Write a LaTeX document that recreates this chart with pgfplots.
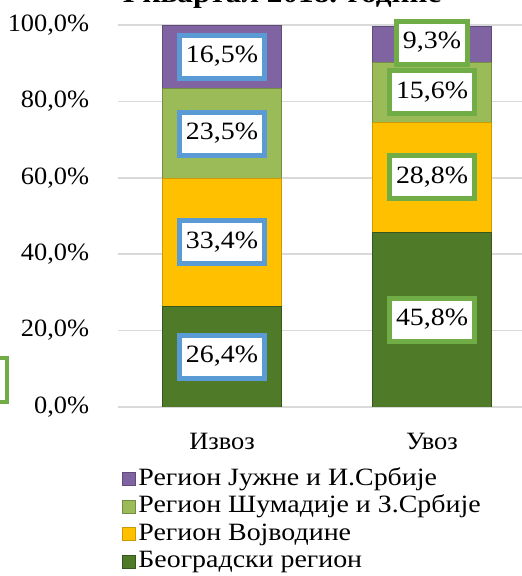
\documentclass[border=0pt]{standalone}
\usepackage{pgfplots}
\pgfplotsset{compat=1.18}
\usepackage{fontspec}
\setmainfont{Liberation Serif}
\definecolor{cpurple}{HTML}{8064A2}
\definecolor{clgreen}{HTML}{9BBB59}
\definecolor{cyellow}{HTML}{FFC000}
\definecolor{cdgreen}{HTML}{4F7A28}
\definecolor{lblue}{HTML}{5B9BD5}
\definecolor{lgreen}{HTML}{70AD47}
\definecolor{gridc}{HTML}{D9D9D9}
\tikzset{lab/.style={anchor=center, fill=white, line width=5bp, xscale=1.12, inner xsep=6bp, inner ysep=9.5bp,
    text height=18bp, text depth=6bp, font=\fontsize{25}{30}\selectfont}}
\begin{document}
\begin{tikzpicture}[x=1bp,y=1bp]
\pgfplotsset{
  base/.style={at={(118bp,169bp)}, anchor=south west, scale only axis,
    width=418bp, height=382bp, xmin=-0.495, xmax=1.495, ymin=0, ymax=100},
  legsq/.style={legend image code/.code={\draw[##1, line width=1bp] (0bp,-6.5bp) rectangle (13bp,6.5bp);}},
}
\begin{axis}[base, ybar stacked, bar width=0.571,
  axis line style={draw=none},
  ytick={0,20,40,60,80,100},
  yticklabels={{0,0\%},{20,0\%},{40,0\%},{60,0\%},{80,0\%},{100,0\%}},
  xtick={0,1}, xticklabels={Извоз,Увоз},
  ymajorgrids, grid style={draw=gridc, line width=1.5bp},
  major tick length=0pt,
  tick label style={font=\fontsize{25}{30}\selectfont, inner sep=0pt, xscale=1.06},
  yticklabel style={xshift=-27bp},
  xticklabel style={yshift=-26bp},
  legend style={at={(0.0096,-0.152)}, anchor=north west, draw=none, fill=none,
    font=\fontsize{25}{28}\selectfont, inner sep=0pt, row sep=0pt, column sep=0pt,
    nodes={inner xsep=2bp, inner ysep=1bp, text height=19bp, text depth=6.5bp, anchor=west, xscale=1.12}},
  legend cell align=left, reverse legend,
]
\addplot[fill=cdgreen, draw=cdgreen!70!black, line width=1bp, legsq] coordinates {(0,26.4) (1,45.8)};
\addplot[fill=cyellow, draw=cyellow!80!black, line width=1bp, legsq] coordinates {(0,33.4) (1,28.8)};
\addplot[fill=clgreen, draw=clgreen!75!black, line width=1bp, legsq] coordinates {(0,23.5) (1,15.6)};
\addplot[fill=cpurple, draw=cpurple!75!black, line width=1bp, legsq] coordinates {(0,16.5) (1,9.3)};
\legend{Београдски регион, Регион Војводине, Регион Шумадије и З.Србије, Регион Јужне и И.Србије}
\end{axis}
\begin{axis}[base, axis lines=none]
\addplot[draw=none, mark=none, nodes near coords, point meta=explicit symbolic,
  every node near coord/.style={lab, draw=lblue}]
  coordinates {(0,13.2) [26,4\%] (0,43.1) [33,4\%] (0,71.55) [23,5\%] (0,91.75) [16,5\%]};
\addplot[draw=none, mark=none, nodes near coords, point meta=explicit symbolic,
  every node near coord/.style={lab, draw=lgreen}]
  coordinates {(1,22.9) [45,8\%] (1,60.2) [28,8\%] (1,82.4) [15,6\%] (1,95.35) [9,3\%]};
\end{axis}
\draw[draw=lgreen, fill=white, line width=4bp] (-80bp,174bp) rectangle (7bp,218bp);
\node[font=\bfseries\fontsize{28}{32}\selectfont, xscale=1.12, anchor=base] at (282bp,573.5bp) {I квартал 2018. године};
\pgfresetboundingbox
\useasboundingbox (0,0) rectangle (522bp,576bp);
\end{tikzpicture}
\end{document}
